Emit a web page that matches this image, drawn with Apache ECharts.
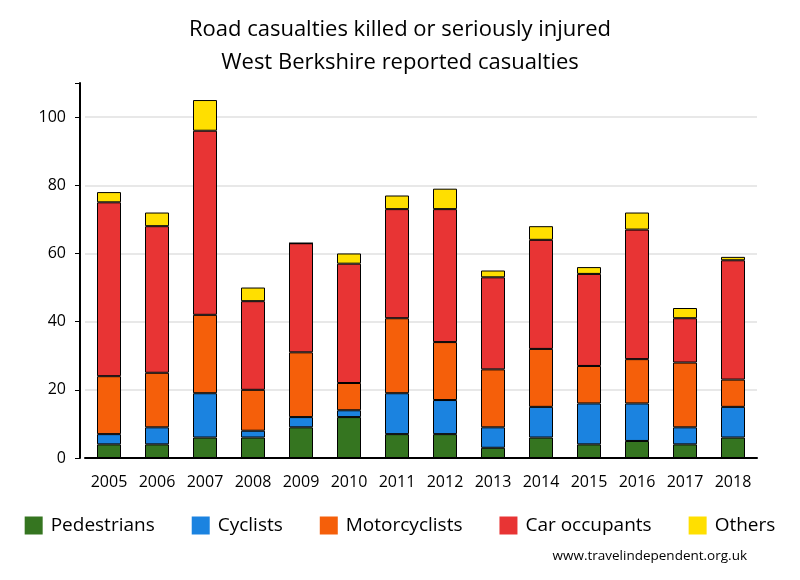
<!DOCTYPE html>
<html><head><meta charset="utf-8">
<script src="https://cdn.jsdelivr.net/npm/echarts@6/dist/echarts.min.js"></script>
<style>html,body{margin:0;padding:0;background:#fff}#c{width:800px;height:580px}</style>
</head><body><div id="c"></div>
<script>
const years = ['2005','2006','2007','2008','2009','2010','2011','2012','2013','2014','2015','2016','2017','2018'];
const pedestrians  = [4, 4, 6, 6, 9, 12, 7, 7, 3, 6, 4, 5, 4, 6];
const cyclists     = [3, 5, 13, 2, 3, 2, 12, 10, 6, 9, 12, 11, 5, 9];
const motorcyclists= [17, 16, 23, 12, 19, 8, 22, 17, 17, 17, 11, 13, 19, 8];
const carOccupants = [51, 43, 54, 26, 32, 35, 32, 39, 27, 32, 27, 38, 13, 35];
const others       = [3, 4, 9, 4, 0, 3, 4, 6, 2, 4, 2, 5, 3, 1];
const yTicks = [0, 20, 40, 60, 80, 100];

const font = 'Open Sans, Noto Sans, sans-serif';
const seriesDefs = [
  ['Pedestrians', pedestrians, '#357520'],
  ['Cyclists', cyclists, '#1b83e0'],
  ['Motorcyclists', motorcyclists, '#f55f0a'],
  ['Car occupants', carOccupants, '#e83434'],
  ['Others', others, '#ffdf00']
];
const chart = echarts.init(document.getElementById('c'), null, {renderer:'canvas'});
chart.setOption({
  animation:false,
  backgroundColor:'#fff',
  title:[{
    text:'Road casualties killed or seriously injured\nWest Berkshire reported casualties',
    left:'center', top:8,
    textStyle:{fontFamily:font, fontSize:22, fontWeight:'normal', color:'#000', lineHeight:33}
  },{
    text:'www.travelindependent.org.uk',
    right:48, top:544,
    textStyle:{fontFamily:font, fontSize:13.5, fontWeight:'normal', color:'#000'}
  }],
  legend:{
    top:511, left:'center',
    itemWidth:18, itemHeight:18, itemGap:37,
    icon:'rect',
    textStyle:{fontFamily:font, fontSize:19, color:'#000', padding:[0,0,0,3]},
    data:seriesDefs.map(s=>({name:s[0], itemStyle:{borderWidth:0}}))
  },
  grid:{left:85, right:43, top:83, bottom:122},
  xAxis:{
    type:'category', data:years,
    axisLine:{lineStyle:{color:'#000', width:2}},
    axisTick:{show:false},
    axisLabel:{fontFamily:font, fontSize:16, color:'#000', margin:16}
  },
  yAxis:{
    type:'value', min:0, max:110, interval:20, offset:5,
    axisLine:{show:true, lineStyle:{color:'#000', width:2}},
    axisTick:{show:true, length:5, lineStyle:{color:'#000', width:1}},
    axisLabel:{fontFamily:font, fontSize:16, color:'#000', margin:14,
      formatter:v=>yTicks.includes(v)?String(v):''},
    splitLine:{showMaxLine:false, lineStyle:{color:'#e8e8e8', width:2}}
  },
  series:seriesDefs.map(s=>({
    name:s[0], type:'bar', stack:'total', data:s[1], barWidth:24,
    itemStyle:{color:s[2], borderColor:'#000', borderWidth:1}
  }))
});
</script></body></html>
